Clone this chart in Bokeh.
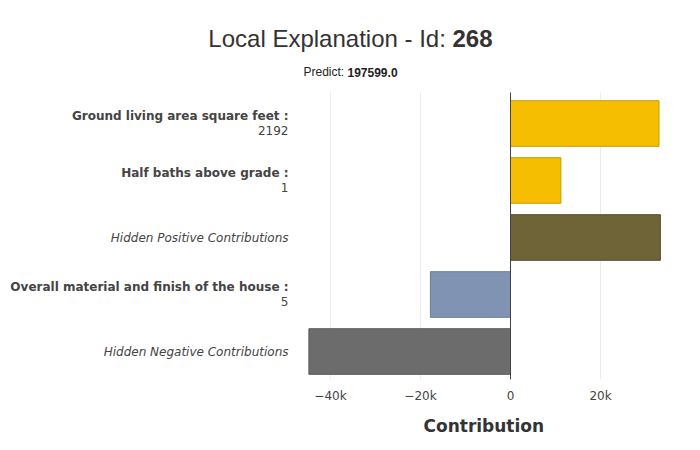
from bokeh.plotting import figure
from bokeh.models import FixedTicker, CustomJSTickFormatter, Range1d, Title
from bokeh.core.properties import value
from bokeh.embed import file_html
from bokeh.resources import INLINE

features = ["Ground living area square feet :", "Half baths above grade :",
            "Hidden Positive Contributions", "Overall material and finish of the house :",
            "Hidden Negative Contributions"]
feature_values = ["2192", "1", "", "5", ""]
contributions = [33000, 11200, 33300, -17800, -44800]
colors = ["#f5bf00", "#f5bf00", "#6f6338", "#8193b2", "#6c6c6c"]
lines = ["#c79c00", "#c79c00", "#564c2b", "#6a7a96", "#585858"]
ticks = [-40000, -20000, 0, 20000]

W = 684
Z = 510  # pixel of zero
p = figure(frame_width=W, frame_height=379, output_backend="svg", toolbar_location=None,
           x_range=Range1d(-Z / 4.5 * 1000, (W - Z) / 4.5 * 1000),
           y_range=Range1d(-4.491, 2.158), min_border_left=0, min_border_right=0,
           min_border_top=0, min_border_bottom=0)
p.outline_line_color = None
p.xgrid.visible = False
p.ygrid.visible = False
p.yaxis.visible = False

ys = [-i for i in range(len(features))]
p.segment(x0=ticks, x1=ticks, y0=[-4.49] * 4, y1=[0.544] * 4, line_color="#ebebeb", line_width=1)
p.hbar(y=ys, left=0, right=contributions, height=0.8, fill_color=colors, line_color=lines)
p.segment(x0=[0], x1=[0], y0=[-4.49], y1=[0.544], line_color="#444444", line_width=1)

lx = (288 - Z) / 4.5 * 1000
for y, f, v in zip(ys, features, feature_values):
    if v:
        p.text(x=[lx], y=[y + 0.13], text=[f], text_align="right", text_baseline="middle",
               text_font=value("DejaVu Sans"), text_font_style="bold", text_font_size="12px",
               text_color="#444444")
        p.text(x=[lx], y=[y - 0.13], text=[v], text_align="right", text_baseline="middle",
               text_font=value("DejaVu Sans"), text_font_size="12px", text_color="#444444")
    else:
        p.text(x=[lx], y=[y], text=[f], text_align="right", text_baseline="middle",
               text_font=value("DejaVu Sans"), text_font_style="italic", text_font_size="12px",
               text_color="#444444")

# title and subtitle
tx = (452 - Z) / 4.5 * 1000
p.text(x=[tx], y=[1.49], text=["Local Explanation - Id: "], text_align="right", text_baseline="middle",
       text_font=value("Liberation Sans"), text_font_size="24px", text_color="#333333")
p.text(x=[tx], y=[1.49], text=["268"], text_align="left", text_baseline="middle",
       text_font=value("Liberation Sans"), text_font_style="bold", text_font_size="24px", text_color="#333333")
sx = (347 - Z) / 4.5 * 1000
p.text(x=[sx], y=[0.895], text=["Predict: "], text_align="right", text_baseline="middle",
       text_font=value("Liberation Sans"), text_font_size="12px", text_color="#222222")
p.text(x=[sx], y=[0.895], text=["197599.0"], text_align="left", text_baseline="middle",
       text_font=value("Liberation Sans"), text_font_style="bold", text_font_size="12px", text_color="#222222")

ax = p.xaxis[0]
ax.ticker = FixedTicker(ticks=ticks)
ax.formatter = CustomJSTickFormatter(code="""
    if (tick == 0) return '0';
    const s = Math.abs(tick / 1000) + 'k';
    return tick < 0 ? '\u2212' + s : s;
""")
ax.axis_line_color = None
ax.major_tick_line_color = None
ax.minor_tick_line_color = None
ax.major_label_text_font = "DejaVu Sans"
ax.major_label_text_font_size = "12px"
ax.major_label_text_color = "#444444"
ax.major_label_standoff = 3

p.add_layout(Title(text="Contribution", align="left", offset=423, standoff=16,
                   text_font="DejaVu Sans", text_font_style="bold", text_font_size="17px",
                   text_color="#333333"), "below")

open("out.html", "w").write(file_html(p, INLINE))
